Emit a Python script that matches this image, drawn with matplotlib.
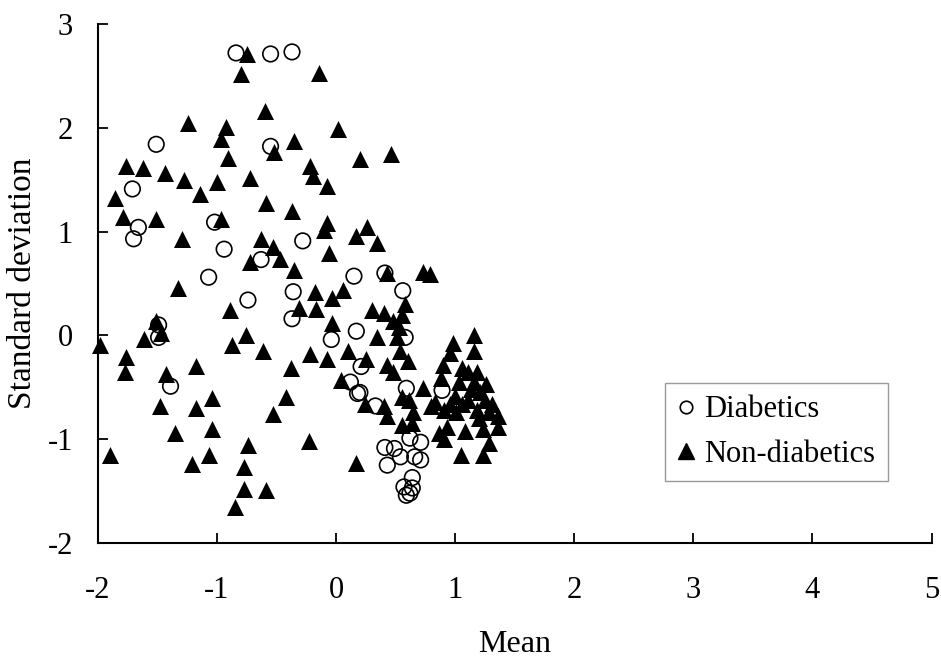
import matplotlib
matplotlib.use("Agg")
from matplotlib import pyplot as plt
from matplotlib.lines import Line2D

# Diabetics (open circles): mean, standard deviation
diab_mean = [-0.84, -0.55, -0.37, -1.51, -0.55, -1.71, -1.66, -1.70, -1.02, -0.94,
             -0.63, -0.28, -1.07, -0.74, -0.36, -0.37, -1.49, -1.49, -1.39, 0.15,
             0.17, -0.04, 0.41, 0.56, 0.21, 0.58, 0.12, 0.20, 0.33, 0.59,
             0.89, 0.41, 0.49, 0.54, 0.66, 0.71, 0.71, 0.62, 0.43, 0.64,
             0.57, 0.62, 0.59, 0.64, 0.18]
diab_sd = [2.72, 2.71, 2.73, 1.84, 1.82, 1.41, 1.04, 0.93, 1.09, 0.83,
           0.73, 0.91, 0.56, 0.34, 0.42, 0.16, 0.10, -0.02, -0.49, 0.57,
           0.04, -0.04, 0.60, 0.43, -0.30, -0.02, -0.45, -0.55, -0.68, -0.51,
           -0.53, -1.08, -1.09, -1.17, -1.17, -1.20, -1.03, -0.99, -1.25, -1.37,
           -1.46, -1.52, -1.54, -1.47, -0.56]

# Non-diabetics (filled triangles)
non_mean = [-0.75, -0.80, -0.14, -0.60, -1.24, -0.92, -0.97, 0.02, -0.35, -0.52,
            0.46, 0.20, -0.91, -1.76, -1.62, -1.44, -1.28, -0.72, -0.22, -0.19,
            -1.00, -1.14, -0.08, -1.86, -0.59, -0.37, -1.79, -1.51, -0.97, -0.08,
            -0.10, 0.26, 0.17, 0.34, -1.29, -0.63, -0.53, -0.47, -0.72, -0.06,
            -0.35, 0.43, 0.73, 0.79, -1.33, -0.18, 0.06, -0.03, -0.31, -0.17,
            -0.89, 0.30, 0.40, 0.58, 0.55, 0.48, 0.53, -0.03, -1.51, -1.47,
            -1.61, -1.98, -0.76, -0.87, -0.61, 0.10, 0.34, 0.25, -0.22, -0.08,
            0.51, 0.54, 0.60, 0.43, 0.48, -1.76, -1.77, -0.38, -1.18, -1.43,
            0.98, 1.16, 1.16, 0.96, 0.90, 1.06, 1.11, 1.18, 0.88, 1.03,
            1.16, 1.26, 0.04, 0.24, 0.40, 0.55, 0.61, 0.73, 0.83, 0.96,
            1.11, 1.21, 1.31, 1.36, 1.28, 1.06, 1.01, 1.18, 0.91, 0.80,
            0.65, 0.55, 0.64, 0.43, 0.93, 0.86, 0.91, 1.08, 1.23, 1.28,
            1.36, 1.23, 1.05, 0.17, -0.23, -1.90, -1.48, -1.21, -1.07, -1.04,
            -1.04, -1.18, -1.35, -0.74, -0.77, -0.77, -0.59, -0.85, -0.53, -0.42,
            1.13, 1.20, 1.00, 1.25]
non_sd = [2.71, 2.52, 2.53, 2.16, 2.05, 2.01, 1.89, 1.99, 1.87, 1.77,
          1.75, 1.70, 1.71, 1.63, 1.61, 1.56, 1.50, 1.52, 1.63, 1.53,
          1.48, 1.36, 1.44, 1.32, 1.27, 1.20, 1.14, 1.12, 1.12, 1.08,
          1.01, 1.04, 0.96, 0.89, 0.93, 0.93, 0.85, 0.74, 0.71, 0.79,
          0.63, 0.60, 0.61, 0.59, 0.46, 0.42, 0.44, 0.36, 0.26, 0.25,
          0.24, 0.24, 0.22, 0.30, 0.20, 0.14, 0.08, 0.12, 0.14, 0.02,
          -0.04, -0.09, 0.00, -0.09, -0.15, -0.15, -0.02, -0.23, -0.18, -0.23,
          -0.02, -0.15, -0.25, -0.29, -0.35, -0.21, -0.35, -0.31, -0.30, -0.37,
          -0.07, 0.00, -0.15, -0.17, -0.29, -0.31, -0.35, -0.35, -0.41, -0.45,
          -0.45, -0.47, -0.43, -0.66, -0.68, -0.59, -0.62, -0.51, -0.64, -0.66,
          -0.62, -0.55, -0.66, -0.78, -0.74, -0.66, -0.74, -0.72, -0.72, -0.68,
          -0.74, -0.86, -0.84, -0.78, -0.88, -0.94, -1.00, -0.92, -0.90, -1.04,
          -0.88, -1.15, -1.15, -1.23, -1.02, -1.15, -0.68, -1.24, -1.15, -0.90,
          -0.60, -0.70, -0.94, -1.06, -1.27, -1.48, -1.49, -1.65, -0.76, -0.59,
          -0.52, -0.80, -0.58, -0.62]

xticks = [-2, -1, 0, 1, 2, 3, 4, 5]
yticks = [-2, -1, 0, 1, 2, 3]

plt.rcParams["font.family"] = ["Liberation Serif", "DejaVu Serif"]

fig = plt.figure(figsize=(9.41, 6.63), dpi=100)
ax = fig.add_axes([0.104, 0.181, 0.886, 0.783])

ax.scatter(diab_mean, diab_sd, s=125, marker="o", facecolors="none",
           edgecolors="black", linewidths=1.2, clip_on=False, zorder=2)
ax.scatter(non_mean, non_sd, s=150, marker="^", color="black",
           linewidths=0, clip_on=False, zorder=3)

ax.set_xlim(-2, 5)
ax.set_ylim(-2, 3)
ax.set_xticks(xticks)
ax.set_yticks(yticks)
ax.set_xticklabels([str(t) for t in xticks])
ax.set_yticklabels([str(t) for t in yticks])

for side in ["top", "right"]:
    ax.spines[side].set_visible(False)
for side in ["left", "bottom"]:
    ax.spines[side].set_linewidth(1.5)
ax.tick_params(direction="in", length=7, width=1.3, labelsize=22)
ax.tick_params(axis="x", pad=24)
ax.tick_params(axis="y", pad=18)

ax.set_xlabel("Mean", fontsize=23, labelpad=18)
ax.set_ylabel("Standard deviation", fontsize=24, labelpad=7)

handles = [
    Line2D([], [], marker="o", linestyle="none", markerfacecolor="none",
           markeredgecolor="black", markersize=9, markeredgewidth=1.2),
    Line2D([], [], marker="^", linestyle="none", color="black", markersize=11),
]
leg = ax.legend(handles, ["Diabetics", "Non-diabetics"], loc="upper left",
                bbox_to_anchor=(0.680, 0.308), fontsize=22, frameon=True,
                fancybox=False, handlelength=0.6, handletextpad=0.3,
                borderpad=0.4, labelspacing=0.5, borderaxespad=0)
leg.get_frame().set_edgecolor("#808080")
leg.get_frame().set_linewidth(1.0)

fig.savefig("out.png", dpi=100)
